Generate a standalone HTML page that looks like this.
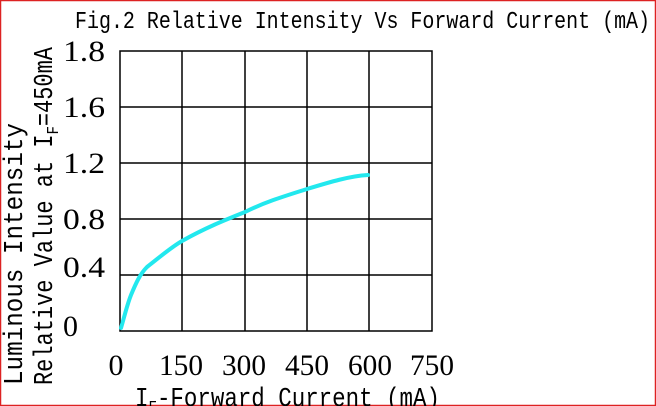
<!DOCTYPE html>
<html><head><meta charset="utf-8"><style>
body{margin:0;background:#fff}
svg{display:block}
</style></head><body>
<svg width="656" height="406" xmlns="http://www.w3.org/2000/svg">
<rect x="0.5" y="0.5" width="655" height="405" fill="#fff" stroke="#d22" stroke-width="1.5"/>
<text x="75" y="28" font-family="Liberation Mono, monospace" font-size="24" textLength="575" lengthAdjust="spacingAndGlyphs">Fig.2 Relative Intensity Vs Forward Current (mA)</text>
<g stroke="#000" stroke-width="1.5" fill="none">
<rect x="120" y="51" width="312" height="280"/>
<line x1="182" y1="51" x2="182" y2="331"/>
<line x1="245" y1="51" x2="245" y2="331"/>
<line x1="307" y1="51" x2="307" y2="331"/>
<line x1="369" y1="51" x2="369" y2="331"/>
<line x1="120" y1="107" x2="432" y2="107"/>
<line x1="120" y1="163" x2="432" y2="163"/>
<line x1="120" y1="219" x2="432" y2="219"/>
<line x1="120" y1="275" x2="432" y2="275"/>
</g>
<path d="M121,328 C124,318 127,305 131,295 C136,283 140,274 147,267 C160,257 170,248 182,241 C205,228 225,220 245,212 C265,202 285,196 307,189 C330,182 350,176 368,175" stroke="#22e8ee" stroke-width="4" fill="none" stroke-linecap="round"/>
<g font-family="Liberation Serif, serif" font-size="30" fill="#000">
<text x="105" y="61" text-anchor="end" textLength="42" lengthAdjust="spacingAndGlyphs">1.8</text>
<text x="105" y="117" text-anchor="end" textLength="42" lengthAdjust="spacingAndGlyphs">1.6</text>
<text x="105" y="173" text-anchor="end" textLength="42" lengthAdjust="spacingAndGlyphs">1.2</text>
<text x="105" y="229" text-anchor="end" textLength="42" lengthAdjust="spacingAndGlyphs">0.8</text>
<text x="105" y="277" text-anchor="end" textLength="42" lengthAdjust="spacingAndGlyphs">0.4</text>
<text x="78" y="336" text-anchor="end">0</text>
<text x="116" y="375" text-anchor="middle">0</text>
<text x="181" y="375" text-anchor="middle" textLength="44" lengthAdjust="spacingAndGlyphs">150</text>
<text x="244" y="375" text-anchor="middle" textLength="44" lengthAdjust="spacingAndGlyphs">300</text>
<text x="307" y="375" text-anchor="middle" textLength="44" lengthAdjust="spacingAndGlyphs">450</text>
<text x="370" y="375" text-anchor="middle" textLength="44" lengthAdjust="spacingAndGlyphs">600</text>
<text x="432" y="375" text-anchor="middle" textLength="44" lengthAdjust="spacingAndGlyphs">750</text>
</g>
<g font-family="Liberation Mono, monospace" font-size="27" fill="#000">
<text transform="translate(22,385) rotate(-90)" textLength="262" lengthAdjust="spacingAndGlyphs">Luminous Intensity</text>
<text transform="translate(52,385) rotate(-90)" textLength="338" lengthAdjust="spacingAndGlyphs">Relative Value at I<tspan font-size="17" dy="6">F</tspan><tspan dy="-6">=450mA</tspan></text>
<text x="135" y="406" textLength="305" lengthAdjust="spacingAndGlyphs">I<tspan font-size="17" dy="6">F</tspan><tspan dy="-6">-Forward Current (mA)</tspan></text>
</g>
</svg>
</body></html>
